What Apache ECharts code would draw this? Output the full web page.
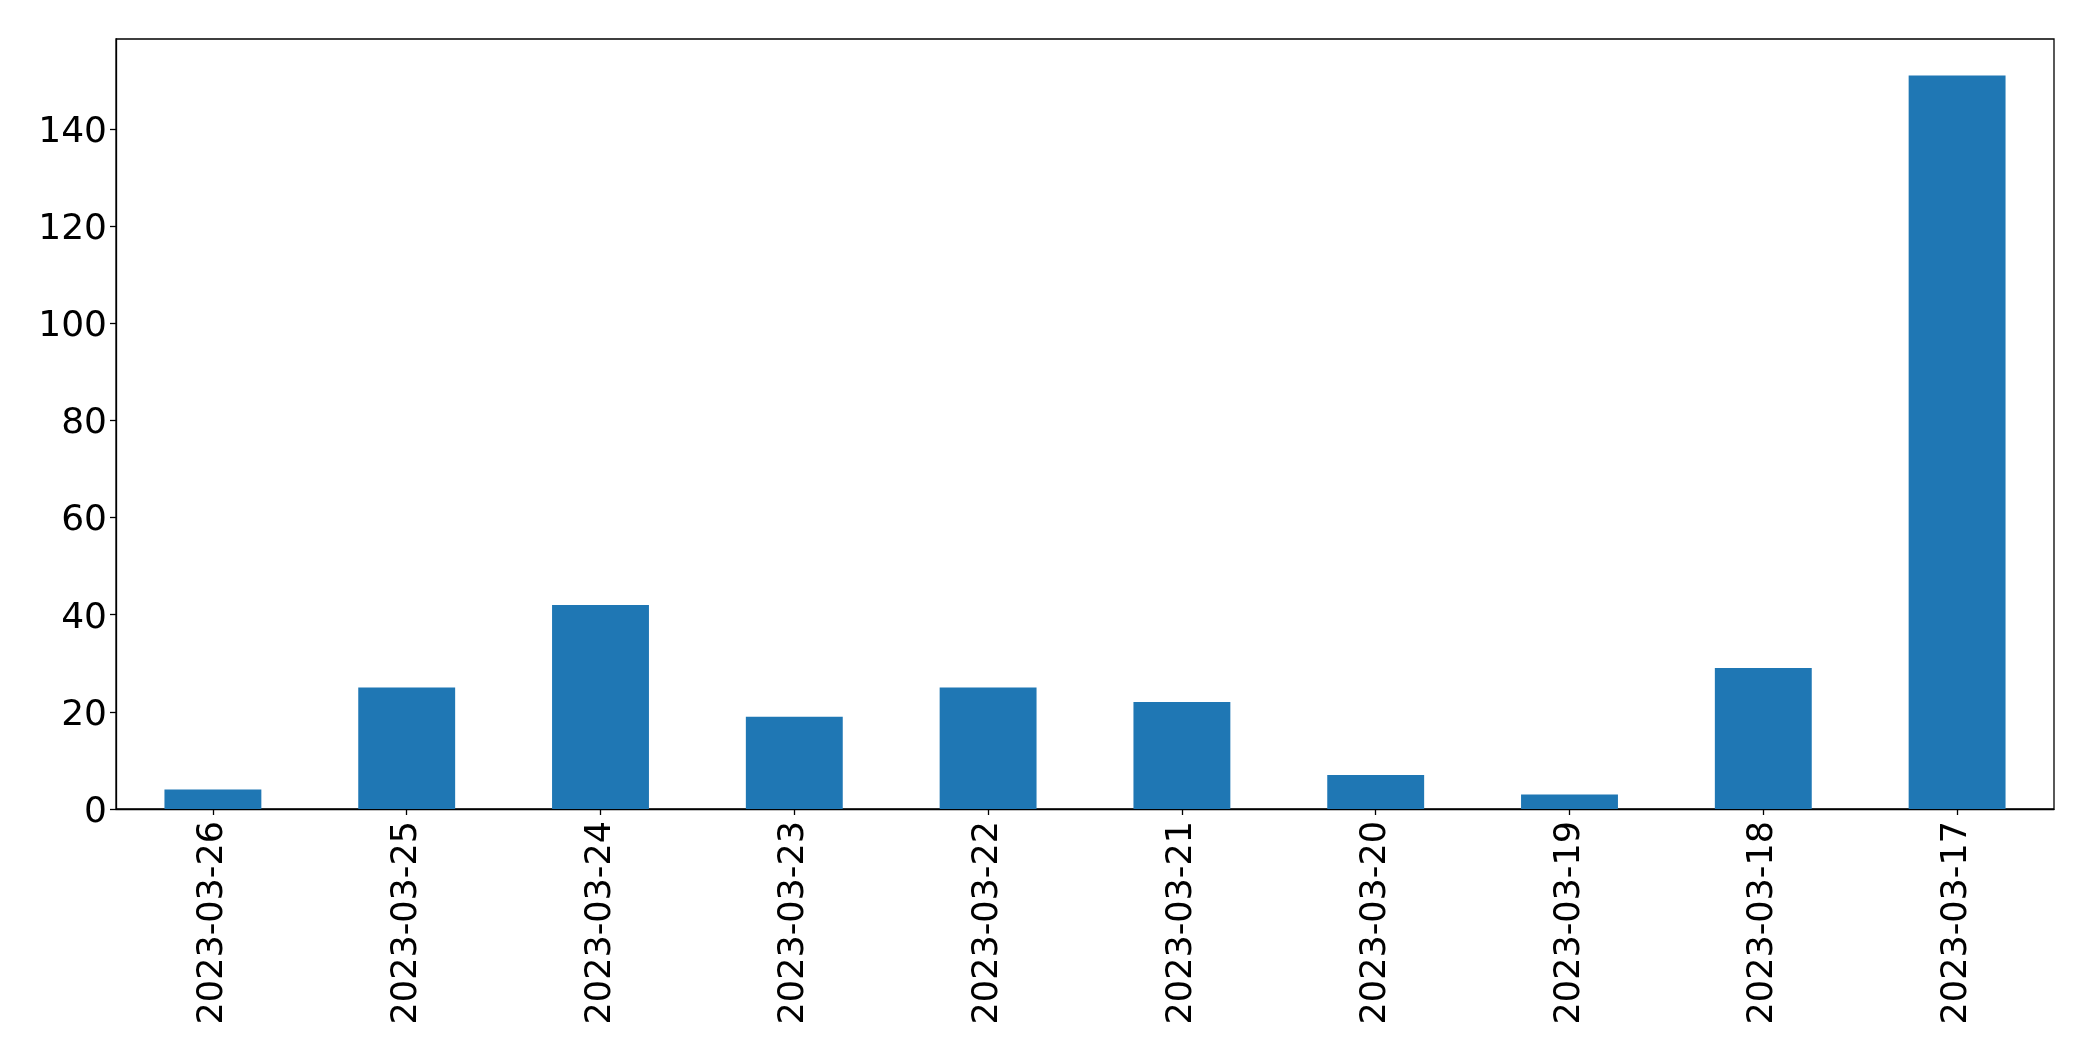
<!DOCTYPE html>
<html>
<head>
<meta charset="utf-8">
<style>html,body{margin:0;padding:0;background:#fff;}#chart{width:2093px;height:1061px;}</style>
<script src="https://cdn.jsdelivr.net/npm/echarts@6/dist/echarts.min.js"></script>
</head>
<body>
<div id="chart"></div>
<script>
const categories = ["2023-03-26","2023-03-25","2023-03-24","2023-03-23","2023-03-22","2023-03-21","2023-03-20","2023-03-19","2023-03-18","2023-03-17"];
const values = [4, 25, 42, 19, 25, 22, 7, 3, 29, 151];
const yTicks = [0, 20, 40, 60, 80, 100, 120, 140];

const chart = echarts.init(document.getElementById('chart'), null, {renderer: 'canvas'});
const font = 'DejaVu Sans';
chart.setOption({
  animation: false,
  backgroundColor: '#fff',
  grid: {left: 116, right: 39, top: 39, bottom: 252, show: true, borderColor: '#000', borderWidth: 1.3, backgroundColor: 'transparent'},
  xAxis: {
    type: 'category',
    data: categories,
    boundaryGap: true,
    axisLine: {show: true, lineStyle: {color: '#000', width: 1.3}},
    axisTick: {show: true, alignWithLabel: true, length: 6, lineStyle: {color: '#000', width: 1.3}},
    axisLabel: {rotate: 90, fontSize: 35, fontFamily: font, color: '#000', margin: 12, interval: 0},
    splitLine: {show: false}
  },
  yAxis: {
    type: 'value',
    min: 0,
    max: 158.5,
    interval: 20,
    axisLine: {show: true, lineStyle: {color: '#000', width: 1.3}},
    axisTick: {show: true, length: 6, lineStyle: {color: '#000', width: 1.3}, customValues: yTicks},
    axisLabel: {
      fontSize: 36, fontFamily: font, color: '#000', margin: 9, customValues: yTicks,
      formatter: function (v) { return '{a|' + v + '}'; },
      rich: {a: {fontSize: 36, fontFamily: font, color: '#000', padding: [7, 0, 0, 0]}}
    },
    splitLine: {show: false}
  },
  series: [{
    type: 'bar',
    data: values,
    barWidth: '50%',
    itemStyle: {color: '#1f77b4'}
  }]
});
</script>
</body>
</html>
